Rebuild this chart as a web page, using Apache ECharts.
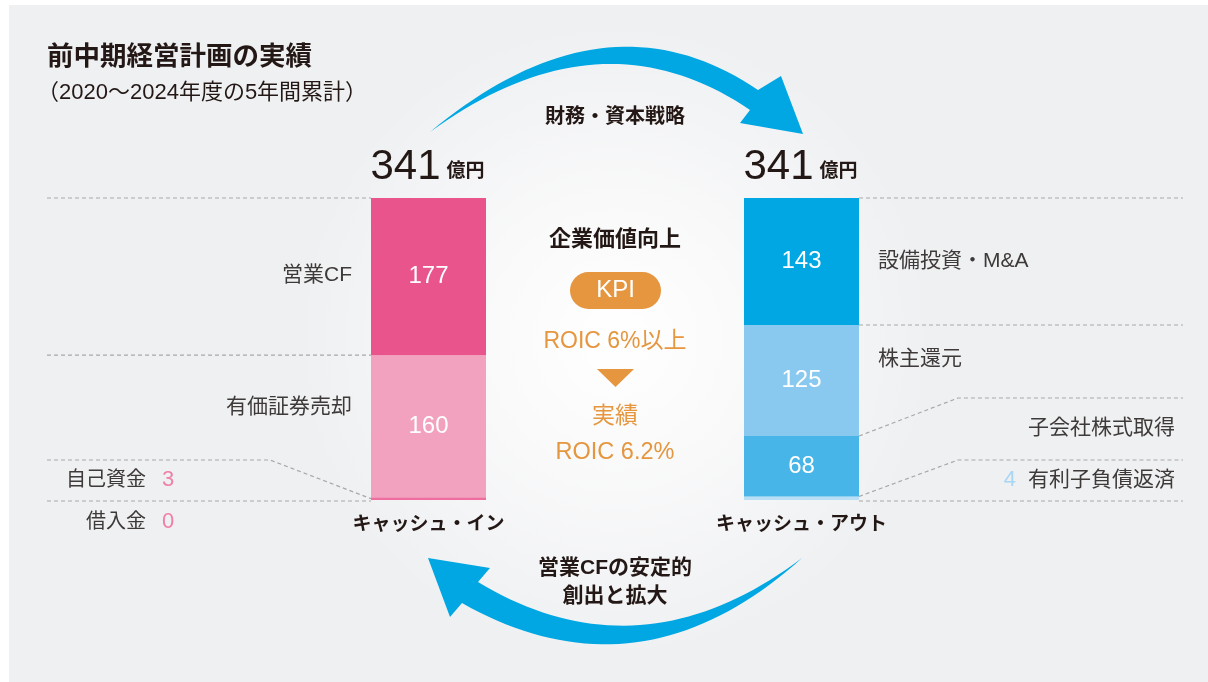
<!DOCTYPE html>
<html><head><meta charset="utf-8">
<script src="https://cdn.jsdelivr.net/npm/echarts@6/dist/echarts.min.js"></script>
<style>html,body{margin:0;padding:0;background:#fff}#c{width:1208px;height:682px}</style>
</head><body><div id="c"></div>
<script>
// ---- data ----
const categories = ['キャッシュ・イン', 'キャッシュ・アウト'];
const totals = [341, 341];
const totalUnit = '億円';
const inNames = ['借入金', '自己資金', '有価証券売却', '営業CF'];      // bottom -> top
const inValues = [0, 3, 160, 177];
const outNames = ['有利子負債返済', '子会社株式取得', '株主還元', '設備投資・M&A']; // bottom -> top
const outValues = [4, 68, 125, 143];
const titleText = '前中期経営計画の実績';
const subtitleText = '（2020〜2024年度の5年間累計）';
const topArrowText = '財務・資本戦略';
const bottomArrowText = ['営業CFの安定的', '創出と拡大'];
const centerTexts = ['企業価値向上', 'KPI', 'ROIC 6%以上', '実績', 'ROIC 6.2%'];

// ---- style ----
const FF = "'Liberation Sans','Noto Sans CJK JP',sans-serif";
const inColors = ['#f07aa6', '#ee6f9f', '#f2a2be', '#e9548d'];
const outColors = ['#b9dff6', '#48b5e8', '#8ac9ef', '#00a7e3'];
const TXT = '#3e3a39';
const DARK = '#231815';
const ORANGE = '#e5963f';
const BLUE = '#00a7e3';
const BAR_W = 115;

const chart = echarts.init(document.getElementById('c'), null, {renderer: 'canvas'});
const maxStack = Math.max(inValues.reduce((a, b) => a + b, 0), outValues.reduce((a, b) => a + b, 0));

const series = inValues.map((v, i) => ({
  type: 'bar', stack: 'cash', barWidth: BAR_W, silent: true, z: 5,
  label: {position: 'inside', color: '#fff', fontSize: 24, fontFamily: FF},
  data: [
    {value: v, itemStyle: {color: inColors[i]}, label: {show: v >= 20}},
    {value: outValues[i], itemStyle: {color: outColors[i]}, label: {show: outValues[i] >= 20}}
  ]
}));

function bgGraphics() {
  return [
    {type: 'rect', z: -20, silent: true, shape: {x: 9, y: 5, width: 1199, height: 677}, style: {fill: '#eff0f2'}},
    {type: 'circle', z: -19, silent: true, shape: {cx: 615, cy: 340, r: 320},
      style: {fill: {type: 'radial', x: 0.5, y: 0.5, r: 0.5, colorStops: [
        {offset: 0, color: 'rgba(255,255,255,1)'},
        {offset: 0.45, color: 'rgba(255,255,255,0.6)'},
        {offset: 1, color: 'rgba(255,255,255,0)'}]}}}
  ];
}

chart.setOption({
  animation: false,
  backgroundColor: '#fff',
  grid: {left: 242, width: 746, top: 198, height: 302},
  xAxis: {type: 'category', data: categories, axisLine: {show: false}, axisTick: {show: false},
    axisLabel: {margin: 15, fontSize: 19, fontWeight: 'bold', color: DARK, fontFamily: FF}},
  yAxis: {type: 'value', min: 0, max: maxStack, show: false, splitLine: {show: false}},
  series: series
});

const yPx = v => chart.convertToPixel({yAxisIndex: 0}, v);
const xPx = i => chart.convertToPixel({xAxisIndex: 0}, i);

function txt(text, x, y, o) {
  o = o || {};
  const al = o.align || 'left';
  return {type: 'text', z: 20, silent: true, style: {
    text: text, x: x, y: y, fill: o.fill || TXT,
    font: (o.weight || 'normal') + ' ' + (o.size || 21) + 'px ' + FF,
    align: al, verticalAlign: 'middle'}};
}
function dash(points) {
  return {type: 'polyline', z: 15, silent: true, shape: {points: points},
    style: {stroke: '#a8a8a8', lineWidth: 1.2, lineDash: [4, 3], fill: null}};
}
function quad(p0, c, p1, n) {
  const pts = [];
  for (let k = 0; k <= n; k++) {
    const t = k / n, u = 1 - t;
    pts.push([u * u * p0[0] + 2 * u * t * c[0] + t * t * p1[0], u * u * p0[1] + 2 * u * t * c[1] + t * t * p1[1]]);
  }
  return pts;
}
function arrow(tail, outerC, outerJ, head, innerJ, innerC) {
  const pts = quad(tail, outerC, outerJ, 40).concat(head).concat(quad(innerJ, innerC, tail, 40));
  return {type: 'polygon', z: 12, silent: true, shape: {points: pts}, style: {fill: BLUE}};
}

const g = bgGraphics();
const lx = xPx(0) - BAR_W / 2, rx = xPx(1) + BAR_W / 2;
const LEFT_END = 47, RIGHT_END = 1183;
const cumIn = [0]; inValues.forEach(v => cumIn.push(cumIn[cumIn.length - 1] + v));
const cumOut = [0]; outValues.forEach(v => cumOut.push(cumOut[cumOut.length - 1] + v));

// left leader lines
const yTopL = yPx(cumIn[4]), yMidL = yPx(cumIn[3]), yBotL = yPx(cumIn[0]);
const ySmallL = 460;
g.push(dash([[LEFT_END, yTopL], [lx, yTopL]]));
g.push(dash([[LEFT_END, yMidL], [lx, yMidL]]));
g.push(dash([[LEFT_END, ySmallL], [270, ySmallL], [lx, yPx(cumIn[1] + inValues[1] / 2)]]));
g.push(dash([[LEFT_END, yBotL + 1], [lx, yBotL + 1]]));
// left labels
g.push(txt(inNames[3], 352, (yTopL + yMidL) / 2 - 1, {align: 'right'}));
g.push(txt(inNames[2], 352, (yMidL + ySmallL) / 2, {align: 'right'}));
g.push(txt(inNames[1], 146, (ySmallL + yBotL) / 2, {align: 'right', size: 20}));
g.push(txt(String(inValues[1]), 162, (ySmallL + yBotL) / 2, {fill: '#ef7fa8', size: 22}));
g.push(txt(inNames[0], 146, yBotL + 22, {align: 'right', size: 20}));
g.push(txt(String(inValues[0]), 162, yBotL + 22, {fill: '#ef7fa8', size: 22}));

// right leader lines
const yTopR = yPx(cumOut[4]), yMidR = yPx(cumOut[3]), yBotR = yPx(cumOut[0]);
const yS1 = 398, yS2 = 460;
g.push(dash([[rx, yTopR], [RIGHT_END, yTopR]]));
g.push(dash([[rx, yMidR], [RIGHT_END, yMidR]]));
g.push(dash([[rx, yPx(cumOut[2])], [958, yS1], [RIGHT_END, yS1]]));
g.push(dash([[rx, yPx(cumOut[1])], [958, yS2], [RIGHT_END, yS2]]));
g.push(dash([[rx, yBotR + 1], [RIGHT_END, yBotR + 1]]));
g.push(txt(outNames[3], 878, (yTopR + yMidR) / 2));
g.push(txt(outNames[2], 878, (yMidR + yS1) / 2 - 2));
g.push(txt(outNames[1], 1175, (yS1 + yS2) / 2 - 1, {align: 'right'}));
g.push(txt(outNames[0], 1175, (yS2 + yBotR) / 2, {align: 'right'}));
g.push(txt(String(outValues[0]), 1016, (yS2 + yBotR) / 2, {align: 'right', fill: '#a9d6f3', size: 22}));

// totals
[0, 1].forEach(i => {
  const cx = xPx(i);
  g.push(txt(String(totals[i]), cx + 12, 167, {align: 'right', size: 42, fill: DARK}));
  g.push(txt(totalUnit, cx + 18, 172, {size: 19, weight: 'bold', fill: DARK}));
});

// title
g.push(txt(titleText, 47, 58, {size: 26.5, weight: 'bold', fill: DARK}));
g.push(txt(subtitleText, 37, 93, {size: 22, fill: DARK}));

// center KPI block
g.push(txt(centerTexts[0], 615, 240, {align: 'center', size: 22, weight: 'bold', fill: DARK}));
g.push({type: 'rect', z: 18, silent: true, shape: {x: 570, y: 272, width: 91, height: 37, r: 18.5}, style: {fill: ORANGE}});
g.push(txt(centerTexts[1], 615.5, 290.5, {align: 'center', size: 24, fill: '#fff'}));
g.push(txt(centerTexts[2], 615, 342, {align: 'center', size: 23, fill: ORANGE}));
g.push({type: 'polygon', z: 18, silent: true, shape: {points: [[597, 369], [634, 369], [615.5, 387]]}, style: {fill: ORANGE}});
g.push(txt(centerTexts[3], 615, 417, {align: 'center', size: 23, fill: ORANGE}));
g.push(txt(centerTexts[4], 615, 453, {align: 'center', size: 23.5, fill: ORANGE}));

// arrows
g.push(arrow([430, 132], [605, -14], [758, 90], [[781, 76], [803, 134], [740, 123]], [750, 110], [600, 8]));
g.push(arrow([802, 558], [640, 704], [462, 603], [[450, 617], [428, 558], [490, 568]], [478, 582], [640, 680]));
g.push(txt(topArrowText, 615, 117, {align: 'center', size: 20, weight: 'bold', fill: DARK}));
g.push(txt(bottomArrowText[0], 615, 568, {align: 'center', size: 21, weight: 'bold', fill: DARK}));
g.push(txt(bottomArrowText[1], 615, 596, {align: 'center', size: 21, weight: 'bold', fill: DARK}));

chart.setOption({graphic: g});
</script></body></html>
